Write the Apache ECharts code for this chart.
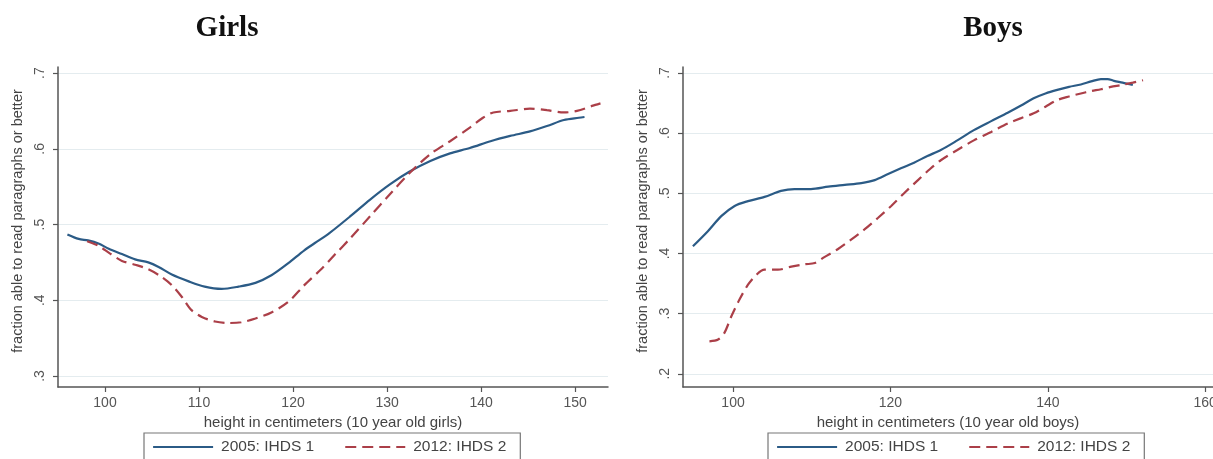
<!DOCTYPE html>
<html>
<head>
<meta charset="utf-8">
<script src="https://cdn.jsdelivr.net/npm/echarts@6/dist/echarts.min.js"></script>
<style>
html,body{margin:0;padding:0;background:#fff;}
#c{width:1213px;height:459px;}
</style>
</head>
<body>
<div id="c"></div>
<script>
// ---------- data ----------
const seriesNames = ['2005: IHDS 1', '2012: IHDS 2'];
const girlsTicksX = [100, 110, 120, 130, 140, 150];
const girlsTicksY = [0.3, 0.4, 0.5, 0.6, 0.7];
const boysTicksX = [100, 120, 140, 160];
const boysTicksY = [0.2, 0.3, 0.4, 0.5, 0.6, 0.7];

const girls2005X = [96.0, 97.2, 98.2, 99.3, 100.4, 101.8, 103.2, 104.6, 105.7, 107.1, 108.9, 110.6, 112.4, 114.2, 116.0, 117.7, 119.5, 121.2, 122.5, 123.9, 126.1, 128.2, 130.3, 132.4, 134.6, 136.7, 138.8, 141.0, 143.1, 145.2, 147.0, 148.8, 150.4, 151.0];
const girls2005Y = [0.487, 0.481, 0.479, 0.475, 0.468, 0.461, 0.454, 0.450, 0.444, 0.434, 0.425, 0.418, 0.415, 0.418, 0.423, 0.433, 0.449, 0.466, 0.477, 0.489, 0.511, 0.533, 0.553, 0.570, 0.584, 0.594, 0.601, 0.610, 0.617, 0.623, 0.630, 0.638, 0.641, 0.642];

const girls2012X = [98.1, 99.3, 100.5, 101.8, 103.2, 104.6, 106.0, 107.1, 108.2, 109.2, 110.3, 111.7, 113.1, 114.5, 116.0, 117.7, 119.5, 121.2, 122.9, 124.5, 126.1, 128.2, 130.3, 132.4, 134.6, 136.7, 138.8, 140.2, 141.3, 143.1, 145.2, 147.0, 148.8, 150.2, 151.9, 152.7];
const girls2012Y = [0.478, 0.472, 0.462, 0.452, 0.447, 0.441, 0.431, 0.420, 0.404, 0.387, 0.378, 0.372, 0.370, 0.371, 0.376, 0.384, 0.398, 0.420, 0.440, 0.461, 0.482, 0.511, 0.540, 0.568, 0.593, 0.610, 0.628, 0.641, 0.648, 0.650, 0.653, 0.651, 0.648, 0.650, 0.657, 0.660];

const boys2005X = [94.9, 96.8, 98.5, 100.2, 101.9, 104.0, 106.1, 107.8, 109.9, 112.1, 114.2, 116.3, 118.0, 119.7, 121.4, 123.0, 124.7, 126.4, 128.5, 130.6, 132.8, 134.9, 136.6, 138.2, 139.7, 141.2, 142.7, 144.2, 145.5, 146.75, 147.6, 148.4, 149.5, 150.8];
const boys2005Y = [0.412, 0.437, 0.462, 0.479, 0.487, 0.494, 0.504, 0.507, 0.507, 0.511, 0.514, 0.517, 0.522, 0.532, 0.542, 0.551, 0.562, 0.572, 0.588, 0.605, 0.620, 0.634, 0.646, 0.658, 0.666, 0.672, 0.677, 0.681, 0.686, 0.690, 0.690, 0.687, 0.684, 0.680];

const boys2012X = [97.0, 98.1, 98.9, 99.8, 100.8, 101.9, 103.0, 104.0, 105.7, 107.4, 109.1, 110.4, 111.6, 113.3, 115.0, 116.7, 118.4, 120.1, 121.8, 123.5, 125.0, 126.4, 128.5, 130.6, 132.8, 134.9, 136.6, 138.2, 139.7, 141.2, 142.7, 144.2, 145.5, 146.75, 148.0, 149.3, 150.8, 152.1];
const boys2012Y = [0.254, 0.257, 0.268, 0.296, 0.323, 0.348, 0.365, 0.373, 0.373, 0.378, 0.382, 0.384, 0.394, 0.407, 0.423, 0.440, 0.459, 0.479, 0.501, 0.522, 0.540, 0.555, 0.572, 0.588, 0.602, 0.616, 0.625, 0.633, 0.644, 0.655, 0.661, 0.666, 0.670, 0.673, 0.677, 0.680, 0.684, 0.688];

// ---------- helpers ----------
const zip = (xs, ys) => xs.map((x, i) => [x, ys[i]]);
const fmtY = v => v.toFixed(1).replace(/^0/, '');
const BLUE = '#2b5b86';
const RED = '#ab3f48';
const FONT = '"Liberation Sans", Arial, sans-serif';

function xAxis(gi, min, max, ticks, name) {
  return {
    type: 'value', gridIndex: gi, min: min, max: max,
    name: name, nameLocation: 'middle', nameGap: 22,
    nameTextStyle: {color: '#444', fontSize: 15, fontFamily: FONT},
    axisLine: {show: true, onZero: false, lineStyle: {color: '#555', width: 1.5}},
    axisTick: {show: true, length: 5, customValues: ticks, lineStyle: {color: '#555', width: 1.2}},
    axisLabel: {customValues: ticks, color: '#555', fontSize: 14, fontFamily: FONT, margin: 9, hideOverlap: false},
    splitLine: {show: false}
  };
}
function yAxis(gi, min, max, ticks, name, gap) {
  return {
    type: 'value', gridIndex: gi, min: min, max: max,
    name: name, nameLocation: 'middle', nameGap: gap,
    nameTextStyle: {color: '#444', fontSize: 14.5, fontFamily: FONT, padding: [0, 0, 0, 12]},
    axisLine: {show: true, onZero: false, lineStyle: {color: '#555', width: 1.5}},
    axisTick: {show: true, length: 5, customValues: ticks, lineStyle: {color: '#555', width: 1.2}},
    axisLabel: {customValues: ticks, color: '#555', fontSize: 14, fontFamily: FONT, rotate: 90, margin: 11, formatter: fmtY},
    splitLine: {show: true, lineStyle: {color: '#e4ecef', width: 1.2}}
  };
}
function line(name, gi, data, dashed) {
  return {
    name: name, type: 'line', xAxisIndex: gi, yAxisIndex: gi,
    data: data, symbol: 'none', smooth: 0.3, silent: true,
    lineStyle: {color: dashed ? RED : BLUE, width: 2.2, type: dashed ? [11, 6] : 'solid'},
    itemStyle: {color: dashed ? RED : BLUE}
  };
}
function legend(left) {
  return {
    data: seriesNames, left: left, top: 433, orient: 'horizontal',
    itemWidth: 60, itemHeight: 14, itemGap: 30,
    padding: [6, 14, 8, 8],
    borderColor: '#777', borderWidth: 1.2,
    itemStyle: {opacity: 0},
    lineStyle: {width: 2.2},
    textStyle: {color: '#444', fontSize: 15.5, fontFamily: FONT, padding: [0, 0, 0, 3]},
    selectedMode: false
  };
}

const option = {
  animation: false,
  backgroundColor: '#fff',
  title: [
    {text: 'Girls', left: 222, top: 9, textAlign: 'center',
     textStyle: {fontFamily: '"Liberation Serif", "Times New Roman", serif', fontWeight: 'bold', fontSize: 29, color: '#111'}},
    {text: 'Boys', left: 988, top: 9, textAlign: 'center',
     textStyle: {fontFamily: '"Liberation Serif", "Times New Roman", serif', fontWeight: 'bold', fontSize: 29, color: '#111'}}
  ],
  legend: [legend(144), legend(768)],
  grid: [
    {left: 58, top: 67, width: 550, height: 320, outerBoundsMode: 'none', containLabel: false},
    {left: 683, top: 67, width: 530, height: 320, outerBoundsMode: 'none', containLabel: false}
  ],
  xAxis: [
    xAxis(0, 95, 153.5, girlsTicksX, 'height in centimeters (10 year old girls)'),
    xAxis(1, 93.64, 160.99, boysTicksX, 'height in centimeters (10 year old boys)')
  ],
  yAxis: [
    yAxis(0, 0.2855, 0.708, girlsTicksY, 'fraction able to read paragraphs or better', 33),
    yAxis(1, 0.178, 0.71, boysTicksY, 'fraction able to read paragraphs or better', 33)
  ],
  series: [
    line(seriesNames[0], 0, zip(girls2005X, girls2005Y), false),
    line(seriesNames[1], 0, zip(girls2012X, girls2012Y), true),
    line(seriesNames[0], 1, zip(boys2005X, boys2005Y), false),
    line(seriesNames[1], 1, zip(boys2012X, boys2012Y), true)
  ]
};
const chart = echarts.init(document.getElementById('c'), null, {renderer: 'canvas'});
chart.setOption(option);
</script>
</body>
</html>
